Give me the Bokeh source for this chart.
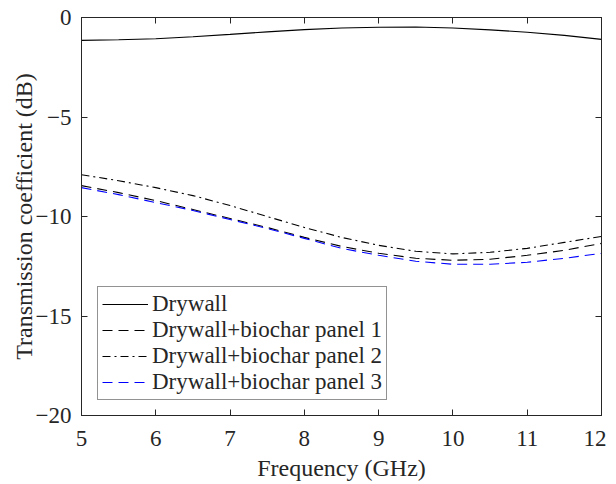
from bokeh.plotting import figure
from bokeh.layouts import row
from bokeh.models import Range1d, LinearAxis, Legend, LegendItem, FixedTicker, Spacer
from bokeh.embed import file_html
from bokeh.resources import INLINE

freq = [5.0, 5.5, 6.0, 6.5, 7.0, 7.5, 8.0, 8.5, 9.0, 9.5, 10.0, 10.5, 11.0, 11.5, 12.0]
drywall = [-1.15, -1.12, -1.07, -0.97, -0.85, -0.72, -0.61, -0.53, -0.49, -0.48, -0.53, -0.62, -0.74, -0.90, -1.10]
panel1 = [-8.45, -8.80, -9.20, -9.65, -10.10, -10.55, -11.05, -11.50, -11.85, -12.10, -12.20, -12.15, -11.95, -11.70, -11.35]
panel2 = [-7.90, -8.20, -8.55, -8.95, -9.45, -10.00, -10.55, -11.05, -11.45, -11.75, -11.88, -11.80, -11.60, -11.30, -11.00]
panel3 = [-8.55, -8.90, -9.30, -9.70, -10.15, -10.60, -11.10, -11.60, -11.95, -12.25, -12.40, -12.40, -12.30, -12.10, -11.85]

labels = ["Drywall", "Drywall+biochar panel 1", "Drywall+biochar panel 2", "Drywall+biochar panel 3"]
x_ticks = [5, 6, 7, 8, 9, 10, 11, 12]
y_ticks = [-20, -15, -10, -5, 0]

FONT = "'Liberation Serif', 'Times New Roman', serif"
AX = "#262626"

p = figure(width=599, height=484, output_backend="svg", toolbar_location=None,
           x_range=Range1d(5, 12), y_range=Range1d(-20, 0),
           min_border_left=60, min_border_right=5, min_border_top=17, min_border_bottom=69)
p.background_fill_color = "white"
p.border_fill_color = "white"
p.grid.visible = False
p.outline_line_color = AX
p.outline_line_width = 1

def style_axis(ax, ticks, show_labels=True):
    ax.ticker = FixedTicker(ticks=ticks)
    ax.major_tick_in = 6
    ax.major_tick_out = 0
    ax.minor_tick_line_color = None
    ax.axis_line_color = AX
    ax.major_tick_line_color = AX
    ax.major_label_text_font = FONT
    ax.major_label_text_color = AX
    if show_labels:
        ax.major_label_text_font_size = "23px"
        ax.major_label_standoff = 8
    else:
        ax.major_label_text_font_size = "0px"
        ax.major_label_standoff = 0

style_axis(p.xaxis[0], x_ticks)
style_axis(p.yaxis[0], y_ticks)
p.xaxis[0].major_label_standoff = 15
p.yaxis[0].major_label_standoff = 10
p.xaxis[0].axis_label = "Frequency (GHz)"
p.yaxis[0].axis_label = "Transmission coefficient (dB)"
for ax in (p.xaxis[0], p.yaxis[0]):
    ax.axis_label_text_font = FONT
    ax.axis_label_text_font_size = "24px"
    ax.axis_label_text_font_style = "normal"
    ax.axis_label_text_color = AX
p.xaxis[0].axis_label_standoff = 6
p.yaxis[0].axis_label_standoff = -4

top = LinearAxis()
style_axis(top, x_ticks, show_labels=False)
p.add_layout(top, "above")
right = LinearAxis()
style_axis(right, y_ticks, show_labels=False)
p.add_layout(right, "right")

r0 = p.line(freq, drywall, line_color="black", line_width=1.1)
r1 = p.line(freq, panel1, line_color="black", line_width=1.1, line_dash="10 6")
r2 = p.line(freq, panel2, line_color="black", line_width=1.1, line_dash="8 4 2 4")
r3 = p.line(freq, panel3, line_color="#0000ff", line_width=1.1, line_dash="10 6")

legend = Legend(items=[LegendItem(label=labels[i], renderers=[r]) for i, r in enumerate([r0, r1, r2, r3])],
                location=(16, 15))
legend.label_text_font = FONT
legend.label_text_font_size = "23px"
legend.label_text_color = AX
legend.glyph_width = 46
legend.glyph_height = 22
legend.label_standoff = 4
legend.spacing = 0
legend.padding = 4
legend.margin = 0
legend.border_line_color = AX
legend.border_line_width = 1
legend.background_fill_color = "white"
legend.background_fill_alpha = 1
p.add_layout(legend, "center")

layout = row(Spacer(width=7, height=484), p)
open("out.html", "w").write(file_html(layout, INLINE))
